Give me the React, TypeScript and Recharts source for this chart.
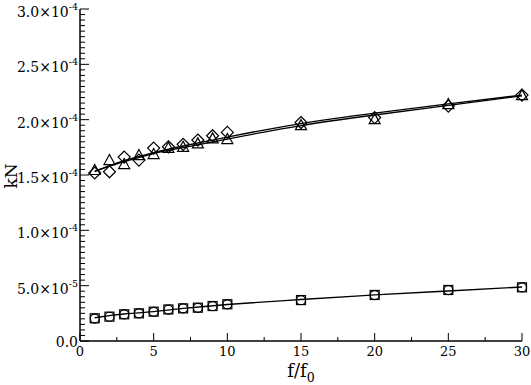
import React from 'react';
import { ComposedChart, Scatter, Line, XAxis, YAxis } from 'recharts';

// measured points, f/f0
const fRatio = [1, 2, 3, 4, 5, 6, 7, 8, 9, 10, 15, 20, 25, 30];
const kNDiamond = [1.518e-4, 1.529e-4, 1.662e-4, 1.635e-4, 1.743e-4, 1.755e-4, 1.777e-4, 1.816e-4, 1.855e-4, 1.885e-4, 1.974e-4, 2.019e-4, 2.123e-4, 2.222e-4];
const kNTriangle = [1.545e-4, 1.635e-4, 1.599e-4, 1.68e-4, 1.689e-4, 1.746e-4, 1.755e-4, 1.786e-4, 1.831e-4, 1.825e-4, 1.951e-4, 2.005e-4, 2.141e-4, 2.222e-4];
const kNSquare = [2.05e-5, 2.2e-5, 2.41e-5, 2.5e-5, 2.65e-5, 2.85e-5, 2.95e-5, 3.01e-5, 3.16e-5, 3.32e-5, 3.7e-5, 4.16e-5, 4.61e-5, 4.85e-5];
const kNCircle = [2.03e-5, 2.19e-5, 2.4e-5, 2.5e-5, 2.64e-5, 2.84e-5, 2.95e-5, 3.0e-5, 3.15e-5, 3.31e-5, 3.69e-5, 4.15e-5, 4.6e-5, 4.84e-5];

// fitted curves
const fitX = [1, 2, 3, 5, 7, 10, 15, 20, 25, 30];
const fitUpper = [1.531e-4, 1.585e-4, 1.631e-4, 1.703e-4, 1.762e-4, 1.843e-4, 1.965e-4, 2.06e-4, 2.143e-4, 2.222e-4];
const fitLower = [1.536e-4, 1.581e-4, 1.621e-4, 1.694e-4, 1.748e-4, 1.825e-4, 1.947e-4, 2.042e-4, 2.129e-4, 2.215e-4];
const fitSmall = [2.1e-5, 2.3e-5, 2.44e-5, 2.66e-5, 2.94e-5, 3.3e-5, 3.75e-5, 4.16e-5, 4.52e-5, 4.88e-5];

const xMajorTicks = [0, 5, 10, 15, 20, 25, 30];
const yMajorTicks = [0, 5e-5, 1e-4, 1.5e-4, 2e-4, 2.5e-4, 3e-4];
const yTickMantissa = ['0.0', '5.0', '1.0', '1.5', '2.0', '2.5', '3.0'];
const yTickExponent = ['', '-5', '-4', '-4', '-4', '-4', '-4'];

const xTicks = Array.from({ length: 13 }, (_, i) => i * 2.5);
const yTicks = Array.from({ length: 61 }, (_, i) => i * 5e-6);

const serif = { fontFamily: '"DejaVu Serif", serif' };

const pts = (ys: number[], xs: number[] = fRatio) => xs.map((x, i) => ({ x, y: ys[i] }));

const yMajorIndex = (v: number) => yMajorTicks.findIndex((t) => Math.abs(t - v) < 1e-9);

const BottomTick = (p: any) => {
  const major = xMajorTicks.includes(p.payload.value);
  return (
    <g>
      <line x1={p.x} y1={p.y} x2={p.x} y2={p.y - (major ? 8 : 4)} stroke="#000" />
      {major && (
        <text x={p.x} y={p.y + 15} textAnchor="middle" fontSize={13} style={serif} fill="#000">
          {p.payload.value}
        </text>
      )}
    </g>
  );
};

const TopTick = (p: any) => {
  const major = xMajorTicks.includes(p.payload.value);
  return <line x1={p.x} y1={p.y} x2={p.x} y2={p.y + (major ? 8 : 4)} stroke="#000" />;
};

const LeftTick = (p: any) => {
  const idx = yMajorIndex(p.payload.value);
  if (idx < 0) return <line x1={p.x} y1={p.y} x2={p.x + 5} y2={p.y} stroke="#000" />;
  const exp = yTickExponent[idx];
  return (
    <g>
      <line x1={p.x} y1={p.y} x2={p.x + 9} y2={p.y} stroke="#000" />
      <text x={p.x - 2} y={p.y + (exp ? 8 : 6)} textAnchor="end" fontSize={14} style={serif} fill="#000">
        {exp ? (
          <>
            {yTickMantissa[idx]}×10
            <tspan dy={-7} fontSize={9.5}>{exp}</tspan>
          </>
        ) : (
          yTickMantissa[idx]
        )}
      </text>
    </g>
  );
};

const RightTick = (p: any) => {
  const idx = yMajorIndex(p.payload.value);
  return <line x1={p.x} y1={p.y} x2={p.x - (idx >= 0 ? 9 : 5)} y2={p.y} stroke="#000" />;
};

const Diamond = (p: any) => (
  <polygon
    points={`${p.cx},${p.cy - 6} ${p.cx + 6},${p.cy} ${p.cx},${p.cy + 6} ${p.cx - 6},${p.cy}`}
    fill="none" stroke="#000" strokeWidth={1.2}
  />
);
const Triangle = (p: any) => (
  <polygon
    points={`${p.cx},${p.cy - 5.5} ${p.cx + 5.5},${p.cy + 4.5} ${p.cx - 5.5},${p.cy + 4.5}`}
    fill="none" stroke="#000" strokeWidth={1.2}
  />
);
const Square = (p: any) => (
  <rect x={p.cx - 4.5} y={p.cy - 4.5} width={9} height={9} fill="none" stroke="#000" strokeWidth={1.2} />
);
const Circle = (p: any) => <circle cx={p.cx} cy={p.cy} r={4.5} fill="none" stroke="#000" strokeWidth={1.2} />;

export default function App() {
  return (
    <div style={{ position: 'absolute', left: 0, top: 0, background: '#fff' }}>
      <ComposedChart width={531} height={385} margin={{ top: 9, right: 9, bottom: 0, left: 0 }}>
        <XAxis
          type="number" dataKey="x" domain={[0, 30]} ticks={xTicks} interval={0}
          height={44} tickSize={0} tickMargin={0} tickLine={false}
          axisLine={{ stroke: '#000', strokeWidth: 1.5 }} tick={BottomTick}
          label={{
            content: () => (
              <text x={301} y={377} textAnchor="middle" fontSize={18} style={serif} fill="#000">
                f/f<tspan dy={5} fontSize={12.5}>0</tspan>
              </text>
            ),
          }}
        />
        <XAxis
          xAxisId="top" orientation="top" type="number" dataKey="x" domain={[0, 30]} ticks={xTicks} interval={0}
          height={0} tickSize={0} tickMargin={0} tickLine={false}
          axisLine={{ stroke: '#000', strokeWidth: 1.5 }} tick={TopTick}
        />
        <YAxis
          type="number" domain={[0, 3e-4]} ticks={yTicks} interval={0} width={80}
          tickSize={0} tickMargin={0} tickLine={false}
          axisLine={{ stroke: '#000', strokeWidth: 1.5 }} tick={LeftTick}
          label={{
            content: () => (
              <text x={0} y={0} transform="translate(17,176) rotate(-90)" textAnchor="middle" fontSize={17} style={serif} fill="#000">
                kN
              </text>
            ),
          }}
        />
        <YAxis
          yAxisId="right" orientation="right" type="number" domain={[0, 3e-4]} ticks={yTicks} interval={0} width={0}
          tickSize={0} tickMargin={0} tickLine={false}
          axisLine={{ stroke: '#000', strokeWidth: 1.5 }} tick={RightTick}
        />
        <Line data={pts(fitUpper, fitX)} dataKey="y" type="natural" stroke="#000" strokeWidth={1.3} dot={false} isAnimationActive={false} />
        <Line data={pts(fitLower, fitX)} dataKey="y" type="natural" stroke="#000" strokeWidth={1.3} dot={false} isAnimationActive={false} />
        <Line data={pts(fitSmall, fitX)} dataKey="y" type="natural" stroke="#000" strokeWidth={1.3} dot={false} isAnimationActive={false} />
        <Scatter data={pts(kNDiamond)} dataKey="y" shape={Diamond} isAnimationActive={false} />
        <Scatter data={pts(kNTriangle)} dataKey="y" shape={Triangle} isAnimationActive={false} />
        <Scatter data={pts(kNSquare)} dataKey="y" shape={Square} isAnimationActive={false} />
        <Scatter data={pts(kNCircle)} dataKey="y" shape={Circle} isAnimationActive={false} />
      </ComposedChart>
    </div>
  );
}
